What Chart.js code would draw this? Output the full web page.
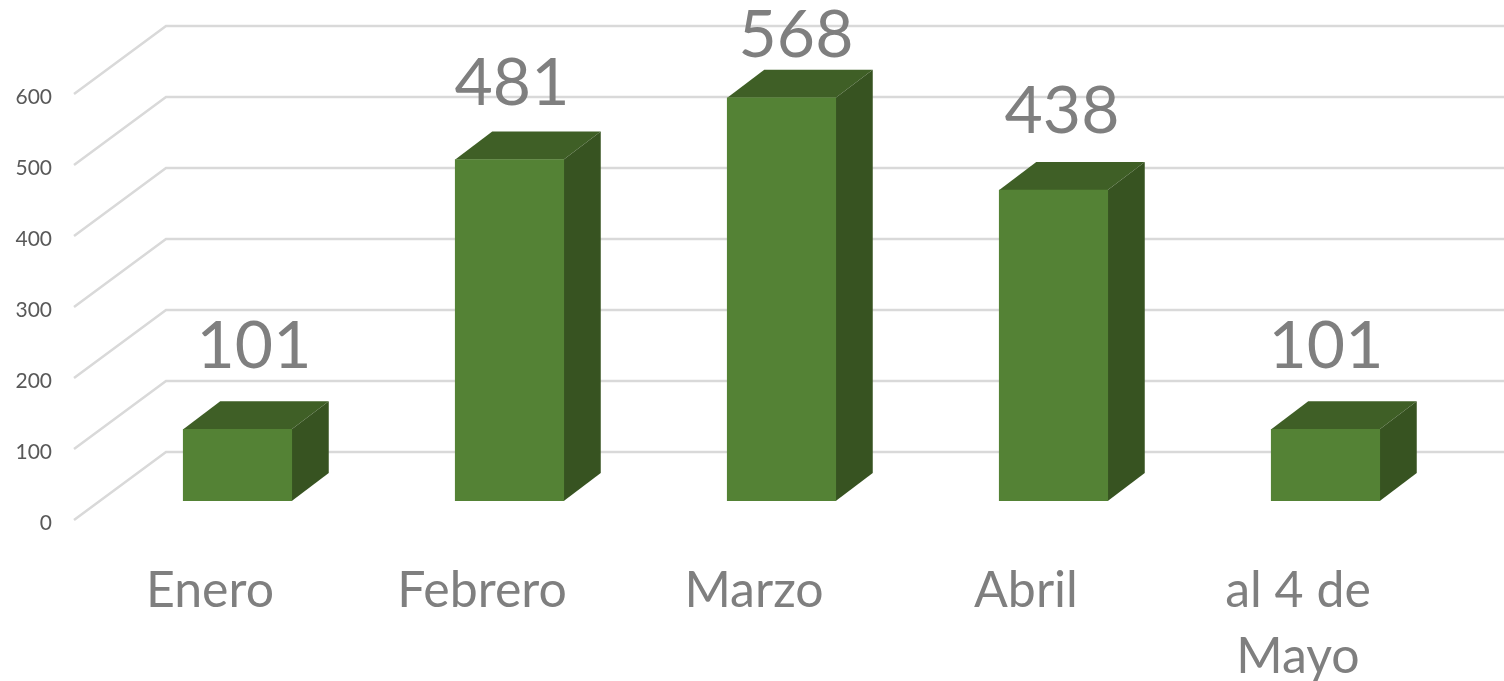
<!DOCTYPE html>
<html><head><meta charset="utf-8">
<style>html,body{margin:0;padding:0;background:#fff}canvas{display:block}</style>
<script src="https://cdn.jsdelivr.net/npm/chart.js@4"></script>
</head><body><canvas id="c" width="1504" height="681"></canvas>
<script>
const categories = ["Enero","Febrero","Marzo","Abril",["al 4 de","Mayo"]];
const seriesValues = [101,481,568,438,101];
const yTicks = [0,100,200,300,400,500,600];
const FONT = 'Lato, Carlito, sans-serif';
const TEXT = '#7f7f7f';
const WALL = {dx:92, dy:-71};     // floor depth
const BAR_SHIFT = {dx:27.5, dy:-22}; // bar position inside the floor depth
const BAR_DEPTH = {dx:37, dy:-28};
const LABEL_OFF = [{x:-11,y:-61},{x:-25,y:-54},{x:-13,y:-41},{x:-19,y:-57},{x:-27,y:-61}];

const wallPlugin = {
  id:'wall',
  beforeDatasetsDraw(chart){
    const {ctx,scales:{x,y}} = chart;
    ctx.save();
    ctx.strokeStyle='#d9d9d9'; ctx.lineWidth=2.5;
    yTicks.forEach(v=>{
      const py=y.getPixelForValue(v);
      ctx.beginPath();
      ctx.moveTo(x.left,py-3);
      ctx.lineTo(x.left+WALL.dx,py+WALL.dy);
      ctx.lineTo(x.right+WALL.dx,py+WALL.dy);
      ctx.stroke();
    });
    ctx.restore();
  },
  beforeDatasetDraw(chart){
    const {ctx}=chart;
    ctx.save();
    ctx.translate(BAR_SHIFT.dx,BAR_SHIFT.dy);
    chart.getDatasetMeta(0).data.forEach(b=>{
      const l=b.x-b.width/2,r=b.x+b.width/2,t=b.y,bt=b.base;
      ctx.fillStyle='#3f5f26';
      ctx.beginPath();ctx.moveTo(l,t);ctx.lineTo(l+BAR_DEPTH.dx,t+BAR_DEPTH.dy);
      ctx.lineTo(r+BAR_DEPTH.dx,t+BAR_DEPTH.dy);ctx.lineTo(r,t);ctx.closePath();ctx.fill();
      ctx.fillStyle='#375321';
      ctx.beginPath();ctx.moveTo(r,t);ctx.lineTo(r+BAR_DEPTH.dx,t+BAR_DEPTH.dy);
      ctx.lineTo(r+BAR_DEPTH.dx,bt+BAR_DEPTH.dy);ctx.lineTo(r,bt);ctx.closePath();ctx.fill();
    });
  },
  afterDatasetDraw(chart){ chart.ctx.restore(); },
  afterDatasetsDraw(chart){
    const {ctx}=chart;
    ctx.save();
    ctx.fillStyle=TEXT; ctx.font='66px '+FONT; ctx.textAlign='center'; ctx.textBaseline='alphabetic';
    chart.getDatasetMeta(0).data.forEach((b,i)=>{
      ctx.fillText(String(seriesValues[i]), b.x+BAR_SHIFT.dx+LABEL_OFF[i].x+27.5, b.y+BAR_SHIFT.dy+LABEL_OFF[i].y);
    });
    ctx.restore();
  }
};

new Chart(document.getElementById('c'),{
  type:'bar',
  data:{labels:categories,datasets:[{data:seriesValues,backgroundColor:'#548235',borderWidth:0,barThickness:108.5}]},
  plugins:[wallPlugin],
  options:{
    responsive:false,animation:false,
    layout:{padding:{top:97,right:70,left:0,bottom:0}},
    plugins:{legend:{display:false},tooltip:{enabled:false}},
    scales:{
      x:{
        grid:{display:false},border:{display:false},
        afterFit(s){s.height=158;},
        ticks:{color:TEXT,maxRotation:0,autoSkip:false,padding:27,font:{family:FONT,size:50,lineHeight:1.32}}
      },
      y:{
        min:0,max:600,
        grid:{display:false},border:{display:false},
        afterFit(s){s.width=74;},
        afterBuildTicks(s){s.ticks=yTicks.map(v=>({value:v}));},
        ticks:{color:'#595959',padding:14,font:{family:FONT,size:21}}
      }
    }
  }
});
</script></body></html>
